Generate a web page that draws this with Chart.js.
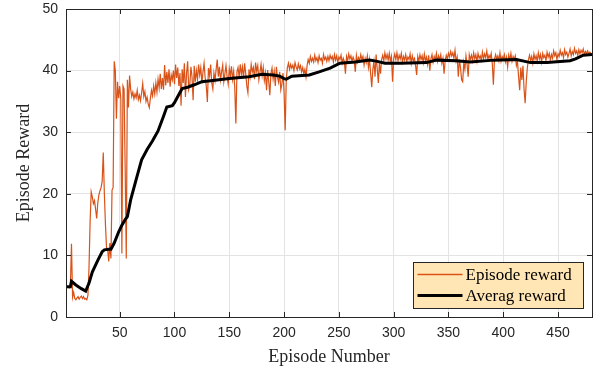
<!DOCTYPE html>
<html>
<head>
<title>Episode Reward</title>
<script src="https://cdn.jsdelivr.net/npm/chart.js"></script>
<style>
  body { margin: 0; background: #fff; }
  canvas { display: block; }
</style>
</head>
<body>
<canvas id="rewardChart" width="603" height="377"></canvas>
<script>
// episode reward, one value per episode (1..480)
const episodeReward = [
  4.8, 4.8, 4.9, 4.7, 5.0, 11.9, 3.2, 4.0, 3.0, 2.8, 3.1, 3.3, 2.9, 3.2, 3.4, 3.0, 3.3, 2.9, 3.0, 2.8,
  3.5, 8.0, 15.5, 20.3, 19.5, 18.4, 18.9, 17.5, 16.0, 18.5, 19.8, 20.5, 21.0, 22.0, 26.7, 20.0, 15.0, 11.2, 11.0, 9.0,
  12.0, 9.5, 20.6, 21.0, 41.5, 40.0, 32.2, 38.2, 35.5, 37.5, 35.5, 10.3, 37.5, 37.0, 24.0, 9.5, 38.5, 34.0, 39.2, 37.0,
  35.8, 36.5, 35.4, 36.2, 35.6, 36.8, 35.3, 36.0, 35.1, 36.4, 37.9, 35.8, 36.6, 35.0, 35.7, 34.6, 34.0, 35.5, 36.8, 35.9,
  37.5, 36.2, 38.0, 36.5, 38.6, 37.2, 39.5, 37.0, 38.8, 36.9, 40.9, 37.6, 39.8, 38.0, 40.2, 37.4, 39.3, 38.5, 40.0, 37.8,
  41.0, 38.8, 40.5, 37.5, 39.6, 34.3, 40.2, 38.0, 41.2, 35.7, 39.5, 41.5, 37.0, 37.8, 40.6, 39.0, 35.2, 40.8, 38.2, 40.0,
  38.6, 41.0, 39.3, 40.5, 37.9, 39.8, 41.2, 38.8, 37.5, 34.9, 40.4, 39.2, 41.0, 38.0, 37.0, 39.6, 38.4, 40.2, 41.8, 39.0,
  40.6, 38.5, 39.8, 40.9, 38.2, 39.5, 40.8, 39.0, 37.8, 40.3, 39.1, 40.7, 38.6, 39.9, 37.2, 31.4, 39.8, 40.5, 38.9, 41.0,
  39.4, 40.6, 38.8, 41.2, 39.5, 37.5, 36.4, 40.2, 39.0, 41.0, 39.8, 40.5, 38.6, 41.3, 39.9, 40.8, 38.5, 39.7, 41.0, 39.2,
  40.5, 38.4, 39.6, 36.8, 40.1, 38.2, 36.0, 39.5, 40.4, 38.6, 39.9, 37.5, 40.6, 38.9, 38.1, 39.8, 36.9, 37.8, 39.6, 36.5,
  30.3, 38.5, 40.5, 41.2, 40.2, 41.0, 40.4, 40.9, 40.0, 41.3, 40.6, 40.1, 41.1, 40.3, 40.8, 39.8, 40.5, 39.5, 40.2, 39.0,
  40.8, 41.8, 41.2, 42.3, 41.5, 42.0, 41.4, 42.5, 41.6, 42.1, 41.3, 42.4, 41.7, 42.0, 41.2, 42.6, 41.8, 42.2, 41.5, 42.3,
  41.6, 42.5, 41.9, 42.3, 41.4, 42.6, 41.7, 42.4, 41.3, 42.2, 41.8, 42.5, 41.2, 42.0, 41.5, 39.5, 42.3, 41.6, 42.7, 41.9,
  42.4, 41.5, 42.2, 41.7, 39.8, 42.5, 41.4, 42.1, 41.6, 42.6, 41.8, 42.3, 40.9, 42.0, 41.3, 42.4, 40.5, 41.8, 39.5, 37.3,
  40.2, 41.5, 39.0, 42.6, 40.3, 38.0, 41.2, 39.5, 41.8, 42.5, 41.6, 42.9, 41.9, 42.6, 41.7, 42.8, 41.5, 42.3, 38.2, 41.9,
  42.7, 41.8, 42.9, 41.6, 42.5, 41.9, 42.8, 41.4, 42.3, 41.7, 42.6, 41.5, 42.2, 41.8, 42.7, 41.2, 42.4, 41.6, 42.0, 40.8,
  39.3, 42.3, 41.5, 42.6, 41.8, 42.4, 41.3, 42.7, 41.6, 42.2, 41.0, 42.5, 40.0, 41.9, 42.6, 41.4, 42.3, 41.7, 42.8, 41.5,
  42.4, 41.8, 42.6, 41.2, 42.0, 39.5, 41.6, 42.5, 41.9, 42.8, 42.2, 43.1, 42.4, 42.9, 42.0, 43.3, 41.5, 42.2, 39.0, 41.8,
  40.5, 38.5, 38.2, 41.3, 40.2, 42.4, 41.0, 39.0, 42.6, 41.8, 42.5, 41.6, 42.9, 41.9, 42.6, 41.5, 42.8, 42.0, 42.4, 41.7,
  43.0, 41.9, 42.7, 42.1, 43.2, 41.8, 42.5, 42.0, 42.8, 41.2, 37.7, 41.8, 42.6, 41.9, 42.4, 41.6, 42.9, 41.5, 42.3, 41.9,
  42.6, 41.4, 42.2, 40.6, 42.5, 41.7, 42.8, 41.5, 42.3, 41.8, 42.4, 40.8, 41.5, 39.0, 36.8, 40.5, 38.5, 40.8, 37.0, 34.7,
  38.2, 40.5, 41.8, 42.5, 41.6, 42.3, 41.2, 42.7, 41.8, 42.4, 41.5, 42.9, 41.9, 42.6, 41.4, 42.8, 42.1, 42.5, 41.6, 43.0,
  42.2, 42.8, 41.7, 42.6, 42.0, 43.2, 42.4, 42.9, 41.8, 42.7, 42.3, 43.3, 42.5, 42.9, 42.1, 43.4, 42.6, 43.0, 42.2, 42.8,
  43.5, 42.4, 43.1, 42.6, 43.6, 42.8, 43.2, 42.5, 43.4, 42.7, 43.3, 42.9, 43.5, 42.6, 43.1, 42.8, 43.2, 42.7, 43.0, 42.9
];

// average reward, read at these episodes
const avgEpisodes = [1, 5, 6, 10, 15, 19, 22, 25, 30, 34, 36, 40, 42, 45, 49, 52, 55, 57, 60, 65,
  70, 75, 80, 85, 90, 93, 98, 100, 103, 107, 112, 118, 125, 135, 150, 168, 180, 190, 196, 200,
  202, 207, 223, 232, 242, 251, 265, 278, 285, 292, 306, 330, 339, 357, 370, 391, 412, 425, 440, 461,
  466, 473, 481];
const avgReward = [4.9, 4.9, 5.8, 5.2, 4.6, 4.2, 5.5, 7.3, 9.2, 10.6, 10.9, 11.0, 11.0, 12.0, 13.8, 14.9, 15.8, 16.3, 19.0, 22.3,
  25.5, 27.2, 28.6, 30.2, 32.6, 34.1, 34.3, 34.8, 35.8, 37.1, 37.3, 37.7, 38.2, 38.4, 38.7, 39.0, 39.4, 39.3, 39.1, 38.7,
  38.6, 39.1, 39.3, 39.8, 40.4, 41.2, 41.4, 41.7, 41.5, 41.2, 41.2, 41.3, 41.7, 41.6, 41.4, 41.7, 41.8, 41.3, 41.3, 41.6,
  41.9, 42.5, 42.6];

const xTicks = [50, 100, 150, 200, 250, 300, 350, 400, 450];
const yTicks = [0, 10, 20, 30, 40, 50];
const legendLabels = ['Episode reward', 'Averag reward'];

const rewardPoints = episodeReward.map((v, i) => ({ x: i + 1, y: v }));
const avgPoints = avgEpisodes.map((e, i) => ({ x: e, y: avgReward[i] }));

const AXIS_COLOR = '#262626';
const ORANGE = '#D95319';

// matlab-like box, inward ticks and legend
const matlabAxes = {
  id: 'matlabAxes',
  afterDraw(chart) {
    const { ctx, chartArea: a, scales } = chart;
    const tl = 5;
    ctx.save();
    ctx.strokeStyle = AXIS_COLOR;
    ctx.lineWidth = 1;
    ctx.beginPath();
    xTicks.forEach(t => {
      const px = Math.round(scales.x.getPixelForValue(t)) + 0.5;
      ctx.moveTo(px, a.bottom); ctx.lineTo(px, a.bottom - tl);
      ctx.moveTo(px, a.top); ctx.lineTo(px, a.top + tl);
    });
    yTicks.forEach(t => {
      const py = Math.round(scales.y.getPixelForValue(t)) + 0.5;
      ctx.moveTo(a.left, py); ctx.lineTo(a.left + tl, py);
      ctx.moveTo(a.right, py); ctx.lineTo(a.right - tl, py);
    });
    ctx.stroke();
    ctx.strokeRect(Math.round(a.left) + 0.5, Math.round(a.top) + 0.5,
      Math.round(a.right - a.left), Math.round(a.bottom - a.top));

    // legend box, bottom right
    const bw = 170, bh = 46;
    const bx = Math.round(a.right) - 179 + 0.5, by = Math.round(a.bottom) - 55 + 0.5;
    ctx.fillStyle = '#FFE6B4';
    ctx.fillRect(bx, by, bw, bh);
    ctx.strokeStyle = AXIS_COLOR;
    ctx.strokeRect(bx, by, bw, bh);
    const rows = [
      { color: ORANGE, width: 1.3, y: by + 12 },
      { color: '#000', width: 3, y: by + 33 }
    ];
    ctx.font = '17px "Liberation Serif", serif';
    ctx.textBaseline = 'middle';
    ctx.textAlign = 'left';
    rows.forEach((r, i) => {
      ctx.strokeStyle = r.color;
      ctx.lineWidth = r.width;
      ctx.beginPath();
      ctx.moveTo(bx + 4, r.y);
      ctx.lineTo(bx + 49, r.y);
      ctx.stroke();
      ctx.fillStyle = '#000';
      ctx.fillText(legendLabels[i], bx + 52, r.y + 1);
    });
    ctx.restore();
  }
};

const ctx = document.getElementById('rewardChart').getContext('2d');
new Chart(ctx, {
  type: 'line',
  data: {
    datasets: [
      {
        label: 'Averag reward',
        data: avgPoints,
        borderColor: '#000',
        borderWidth: 3,
        pointRadius: 0,
        tension: 0,
        order: 0
      },
      {
        label: 'Episode reward',
        data: rewardPoints,
        borderColor: ORANGE,
        borderWidth: 1.2,
        pointRadius: 0,
        tension: 0,
        order: 1
      }
    ]
  },
  options: {
    responsive: false,
    animation: false,
    devicePixelRatio: 1,
    layout: { padding: { top: 9, right: 11, left: 0, bottom: 0 } },
    plugins: {
      legend: { display: false },
      tooltip: { enabled: false }
    },
    scales: {
      x: {
        type: 'linear',
        min: 1,
        max: 481,
        afterBuildTicks: s => { s.ticks = xTicks.map(v => ({ value: v })); },
        afterFit: s => { s.height = 60; s.paddingLeft = 0; s.paddingRight = 0; },
        grid: { color: '#E3E3E3', drawTicks: false },
        border: { display: false },
        ticks: {
          padding: 8,
          autoSkip: false,
          maxRotation: 0,
          color: AXIS_COLOR,
          font: { family: '"Liberation Sans", Arial, sans-serif', size: 14 }
        },
        title: {
          display: true,
          text: 'Episode Number',
          color: AXIS_COLOR,
          padding: { top: 0, bottom: 9 },
          font: { family: '"Liberation Serif", serif', size: 18 }
        }
      },
      y: {
        min: 0,
        max: 50,
        afterBuildTicks: s => { s.ticks = yTicks.map(v => ({ value: v })); },
        afterFit: s => { s.width = 66; s.paddingTop = 0; s.paddingBottom = 0; },
        grid: { color: '#E3E3E3', drawTicks: false },
        border: { display: false },
        ticks: {
          padding: 8,
          color: AXIS_COLOR,
          font: { family: '"Liberation Sans", Arial, sans-serif', size: 14 }
        },
        title: {
          display: true,
          text: 'Episode Reward',
          color: AXIS_COLOR,
          padding: { top: 13, bottom: 0 },
          font: { family: '"Liberation Serif", serif', size: 18 }
        }
      }
    }
  },
  plugins: [matlabAxes]
});
</script>
</body>
</html>
